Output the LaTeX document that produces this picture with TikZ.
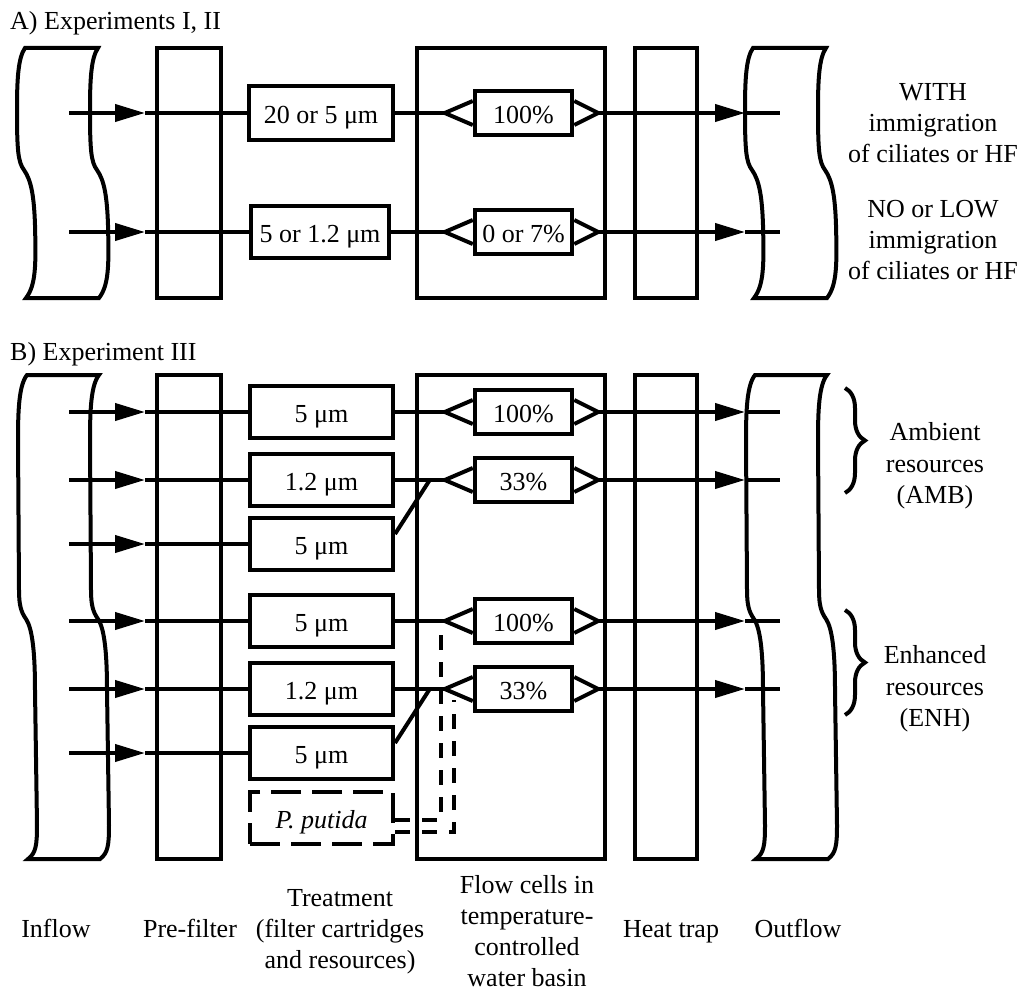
\documentclass[tikz,border=0pt]{standalone}
\usepackage{fontspec}
\setmainfont{Liberation Serif}
\usetikzlibrary{arrows.meta,calc,decorations.pathreplacing}
\newcommand\cellarms[1]{%
  \draw[flow,line join=miter] ($(#1.west)+(0,-12)$) -- ($(#1.west)+(-28,0)$) -- ($(#1.west)+(0,12)$);
  \draw[flow,line join=miter] ($(#1.east)+(0,-12)$) -- ($(#1.east)+(24,0)$) -- ($(#1.east)+(0,12)$);}
\newcommand\ribbonA{(25,48) .. controls (18,58) and (17,80) .. (17,110) .. controls (17,150) and (18,162) .. (24,170) .. controls (31,180) and (34,195) .. (35,225) .. controls (36,265) and (36,285) .. (26,298) -- (99,298) .. controls (109,285) and (109,265) .. (108,225) .. controls (107,195) and (104,180) .. (97,170) .. controls (91,162) and (90,150) .. (90,110) .. controls (90,80) and (91,58) .. (98,48) -- cycle}
\newcommand\ribbonB{(27,375) .. controls (19,385) and (18,410) .. (18,440) -- (19,590) .. controls (19,605) and (21,612) .. (26,619) .. controls (32,628) and (35,650) .. (35,690) -- (37,825) .. controls (37,845) and (36,853) .. (28,859) -- (100,859) .. controls (108,853) and (109,845) .. (109,825) -- (107,690) .. controls (107,650) and (104,628) .. (98,619) .. controls (93,612) and (91,605) .. (91,590) -- (90,440) .. controls (90,410) and (91,385) .. (99,375) -- cycle}
\begin{document}
\begin{tikzpicture}[x=1pt,y=-1pt,
  every node/.style={font=\fontsize{26}{31}\selectfont},
  flow/.style={line width=4pt},
  arr/.style={flow,-{Triangle[length=30pt,width=17pt]}},
  tbox/.style={draw,line width=4pt,minimum width=143pt,minimum height=52pt,inner sep=0pt,text height=20pt,text depth=0pt},
  cbox/.style={draw,line width=4.5pt,minimum width=97pt,minimum height=44pt,inner sep=0pt,text height=20pt,text depth=0pt},
  bigbox/.style={draw,line width=3.5pt,inner sep=0pt},
  ribbon/.style={line width=4pt,line join=miter},
  dashline/.style={line width=4pt,dash pattern=on 15pt off 12pt},
  lbl/.style={anchor=base,inner sep=0pt},
  bracestyle/.style={line width=4pt,decorate,decoration={brace,amplitude=20pt}}]
\useasboundingbox (0,0) rectangle (1023,990);

% ---------------- Part A ----------------
\node[lbl,anchor=base west] (titleA) at (10,30) {A) Experiments I, II};
\draw[ribbon] \ribbonA;
\begin{scope}[xshift=728pt]\draw[ribbon] \ribbonA;\end{scope}
\node[bigbox,minimum width=64pt,minimum height=250pt] (pfA) at (189,173) {};
\node[bigbox,minimum width=188pt,minimum height=250pt] (fcA) at (511,173) {};
\node[bigbox,minimum width=62pt,minimum height=250pt] (htA) at (666,173) {};

\node[tbox,minimum width=144pt,minimum height=54pt] (tA1) at (321,113) {20 or 5 μm};
\node[tbox,minimum width=138pt] (tA2) at (320,232) {5 or 1.2 μm};
\node[cbox] (cA1) at (523.5,113) {100\%};
\node[cbox] (cA2) at (523.5,232) {0 or 7\%};
\cellarms{cA1}\cellarms{cA2}
\foreach \r/\y in {A1/113,A2/232}{
  \coordinate (in\r) at (69,\y);
  \coordinate (ih\r) at (145,\y);
  \coordinate (oh\r) at (745,\y);
  \coordinate (out\r) at (780,\y);
  \draw[arr] (in\r) -- (ih\r);
  \draw[flow] (ih\r) -- (t\r.west);
  \draw[flow] (t\r.east) -- ($(c\r.west)+(-28,0)$);
  \draw[arr] ($(c\r.east)+(24,0)$) -- (oh\r);
  \draw[flow] (oh\r) -- (out\r);
}
\node[lbl] (wa1) at (933,100) {WITH};
\node[lbl] (wa2) at (933,131) {immigration};
\node[lbl] (wa3) at (933,162) {of ciliates or HF};
\node[lbl] (na1) at (933,217) {NO or LOW};
\node[lbl] (na2) at (933,248) {immigration};
\node[lbl] (na3) at (933,279) {of ciliates or HF};

% ---------------- Part B ----------------
\node[lbl,anchor=base west] (titleB) at (10,360) {B) Experiment III};
\draw[ribbon] \ribbonB;
\begin{scope}[xshift=728pt]\draw[ribbon] \ribbonB;\end{scope}
\node[bigbox,minimum width=64pt,minimum height=484pt] (pfB) at (189,617) {};
\node[bigbox,minimum width=188pt,minimum height=484pt] (fcB) at (511,617) {};
\node[bigbox,minimum width=62pt,minimum height=484pt] (htB) at (666,617) {};

\node[tbox] (tB1) at (321.5,412) {5 μm};
\node[tbox] (tB2) at (321.5,480) {1.2 μm};
\node[tbox] (tB3) at (321.5,544) {5 μm};
\node[tbox] (tB4) at (321.5,621) {5 μm};
\node[tbox] (tB5) at (321.5,689) {1.2 μm};
\node[tbox] (tB6) at (321.5,753) {5 μm};
\node[tbox,dash pattern=on 30pt off 11pt] (pp) at (321.5,818) {\itshape P. putida};

\node[cbox] (cB1) at (523.5,412) {100\%};
\node[cbox] (cB2) at (523.5,480) {33\%};
\node[cbox] (cB4) at (523.5,621) {100\%};
\node[cbox] (cB5) at (523.5,689) {33\%};
\cellarms{cB1}\cellarms{cB2}\cellarms{cB4}\cellarms{cB5}

\foreach \r/\y in {B1/412,B2/480,B3/544,B4/621,B5/689,B6/753}{
  \coordinate (in\r) at (69,\y);
  \coordinate (ih\r) at (145,\y);
  \draw[arr] (in\r) -- (ih\r);
  \draw[flow] (ih\r) -- (t\r.west);
}
\foreach \r/\y in {B1/412,B2/480,B4/621,B5/689}{
  \coordinate (oh\r) at (745,\y);
  \coordinate (out\r) at (780,\y);
  \draw[flow] (t\r.east) -- ($(c\r.west)+(-28,0)$);
  \draw[arr] ($(c\r.east)+(24,0)$) -- (oh\r);
  \draw[flow] (oh\r) -- (out\r);
}
\draw[flow] ($(tB3.east)+(0,-10)$) -- ($(cB2.west)+(-43,0)$);
\draw[flow] ($(tB6.east)+(0,-10)$) -- ($(cB5.west)+(-43,0)$);

\draw[dashline] ($(pp.east)+(0,2)$) -| ($(cB4.west)+(-32,0)$);
\draw[dashline] ($(pp.east)+(0,14)$) -| ($(cB5.west)+(-19,11)$);

\coordinate (brA1) at (845,388);
\coordinate (brA2) at (845,493);
\coordinate (brE1) at (845,610);
\coordinate (brE2) at (845,715);
\draw[bracestyle] (brA1) -- (brA2);
\draw[bracestyle] (brE1) -- (brE2);
\node[lbl] (am1) at (935,440) {Ambient};
\node[lbl] (am2) at (935,472) {resources};
\node[lbl] (am3) at (935,503) {(AMB)};
\node[lbl] (en1) at (935,663) {Enhanced};
\node[lbl] (en2) at (935,695) {resources};
\node[lbl] (en3) at (935,726) {(ENH)};

% ---------------- bottom labels ----------------
\node[lbl] (bInflow) at (56,937) {Inflow};
\node[lbl] (bPre) at (190,937) {Pre-filter};
\node[lbl] (bT1) at (340,906) {Treatment};
\node[lbl] (bT2) at (340,937) {(filter cartridges};
\node[lbl] (bT3) at (340,968) {and resources)};
\node[lbl] (bF1) at (527,893) {Flow cells in};
\node[lbl] (bF2) at (527,924) {temperature-};
\node[lbl] (bF3) at (527,955) {controlled};
\node[lbl] (bF4) at (527,986) {water basin};
\node[lbl] (bHeat) at (671,937) {Heat trap};
\node[lbl] (bOut) at (798,937) {Outflow};
\end{tikzpicture}
\end{document}
